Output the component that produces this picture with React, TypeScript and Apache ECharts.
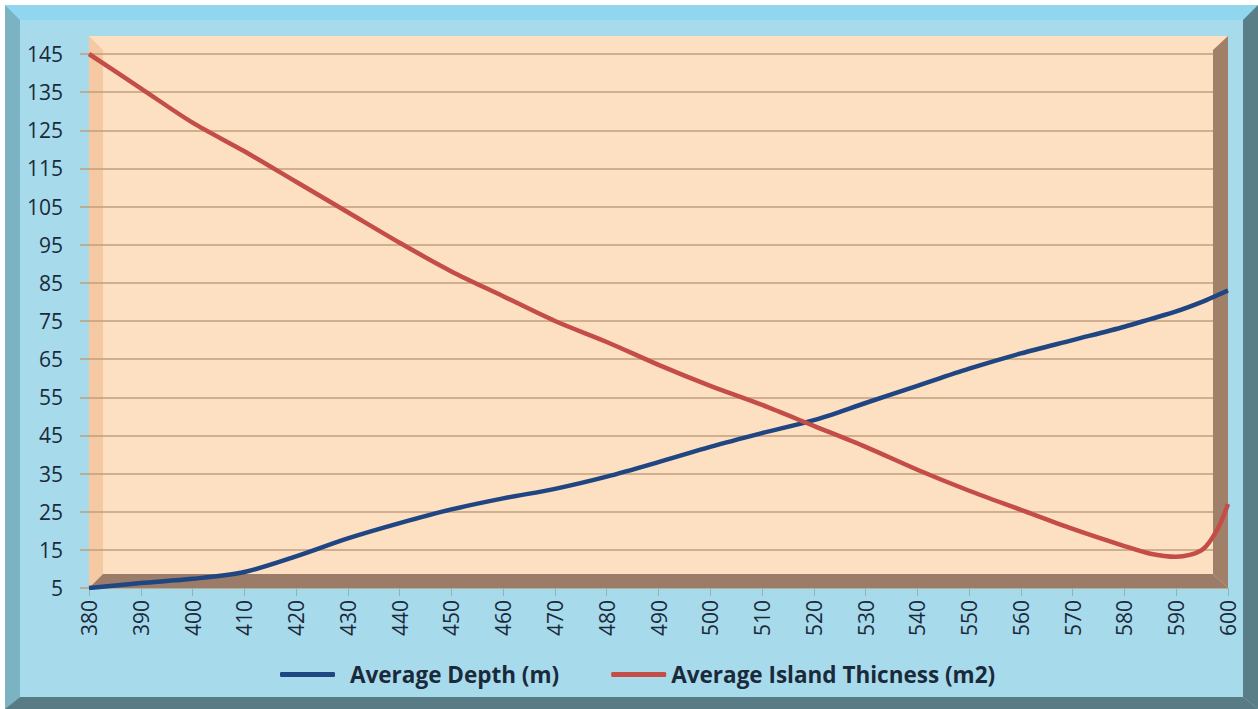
import React, { useEffect, useRef } from "react";
import * as echarts from "echarts";

const xValues = [380, 390, 400, 410, 420, 430, 440, 450, 460, 470, 480, 490, 500, 510, 520, 530, 540, 550, 560, 570, 580, 585, 590, 595, 598, 600];
const depth = [5, 6.3, 7.4, 9.2, 13.3, 18, 22, 25.6, 28.5, 31, 34.2, 38, 42, 45.6, 49, 53.5, 58, 62.5, 66.5, 70, 73.5, 75.5, 77.5, 80, 81.8, 83];
const thickness = [145, 136, 127, 119.5, 111.5, 103.5, 95.5, 88, 81.5, 75, 69.5, 63.5, 58, 53, 47.5, 42, 36, 30.5, 25.5, 20.5, 16, 14, 13.2, 15, 20.5, 27];
const seriesNames = ["Average Depth (m)", "Average Island Thicness (m2)"];
const xMin = 380, xMax = 600, xStep = 10;
const yMin = 5, yMax = 145, yStep = 10;

export default function App() {
  const ref = useRef<HTMLDivElement>(null);
  useEffect(() => {
    const chart = echarts.init(ref.current!, null, { renderer: "svg" });
    const pair = (ys: number[]) => xValues.map((x, i) => [x, ys[i]]);
    const font = "'Open Sans', sans-serif";
    chart.setOption({
      animation: false,
      backgroundColor: "#ffffff",
      graphic: [
        { type: "rect", z: -20, shape: { x: 5, y: 5, width: 1253, height: 704 }, style: { fill: "#a7dbeb" } },
        { type: "polygon", z: -19, shape: { points: [[5, 5], [1258, 5], [1243, 20], [20, 20]] }, style: { fill: "#90d6ef" } },
        { type: "polygon", z: -19, shape: { points: [[5, 5], [20, 20], [20, 697], [5, 709]] }, style: { fill: "#7bb3c2" } },
        { type: "polygon", z: -19, shape: { points: [[1258, 5], [1258, 709], [1243, 697], [1243, 20]] }, style: { fill: "#5a7e88" } },
        { type: "polygon", z: -19, shape: { points: [[5, 709], [1258, 709], [1243, 697], [20, 697]] }, style: { fill: "#587b86" } },
        { type: "rect", z: -18, shape: { x: 89, y: 36, width: 1139, height: 552 }, style: { fill: "#fde0c1" } },
        { type: "polygon", z: -17, shape: { points: [[89, 36], [103, 50], [103, 574], [89, 588]] }, style: { fill: "#f5caa3" } },
        { type: "polygon", z: 1, shape: { points: [[1228, 36], [1228, 588], [1213, 574], [1213, 50]] }, style: { fill: "#a1806a" } },
        { type: "polygon", z: 1, shape: { points: [[89, 588], [1228, 588], [1213, 574], [103, 574]] }, style: { fill: "#9a7c68" } },
      ],
      grid: { left: 89, right: 30, top: 54, bottom: 121, containLabel: false },
      legend: {
        left: 275,
        top: 658,
        itemWidth: 55,
        itemHeight: 5,
        itemGap: 52,
        icon: "roundRect",
        textStyle: { fontFamily: font, fontWeight: "bold", fontSize: 22.5, color: "#1b2a3b", padding: [0, 0, 0, 10] },
        data: [
          { name: seriesNames[0] },
          { name: seriesNames[1], textStyle: { padding: [0, 0, 0, 0] } },
        ],
      },
      xAxis: {
        type: "value",
        min: xMin,
        max: xMax,
        interval: xStep,
        axisLine: { show: false },
        axisTick: { show: true, length: 8, lineStyle: { color: "#8fb3bf", width: 1 } },
        splitLine: { show: false },
        axisLabel: { rotate: 90, margin: 12, fontFamily: font, fontSize: 21, color: "#1b2a3b" },
      },
      yAxis: {
        type: "value",
        min: yMin,
        max: yMax,
        interval: yStep,
        axisLine: { show: false },
        axisTick: { show: true, length: 9, lineStyle: { color: "#bf9f7c", width: 1.5 } },
        splitLine: { show: true, lineStyle: { color: "#bf9f7c", width: 1.5 } },
        axisLabel: { margin: 26, fontFamily: font, fontSize: 21, color: "#1b2a3b" },
      },
      series: [
        {
          name: seriesNames[0],
          type: "line",
          data: pair(depth),
          smooth: 0.3,
          symbol: "none",
          z: 3,
          lineStyle: { color: "#1f4683", width: 4.5 },
          itemStyle: { color: "#1f4683" },
        },
        {
          name: seriesNames[1],
          type: "line",
          data: pair(thickness),
          smooth: 0.3,
          symbol: "none",
          z: 3,
          lineStyle: { color: "#c44d48", width: 4.5 },
          itemStyle: { color: "#c44d48" },
        },
      ],
    });
    return () => chart.dispose();
  }, []);
  return <div ref={ref} style={{ position: "fixed", left: 0, top: 0, width: 1258, height: 709 }} />;
}
